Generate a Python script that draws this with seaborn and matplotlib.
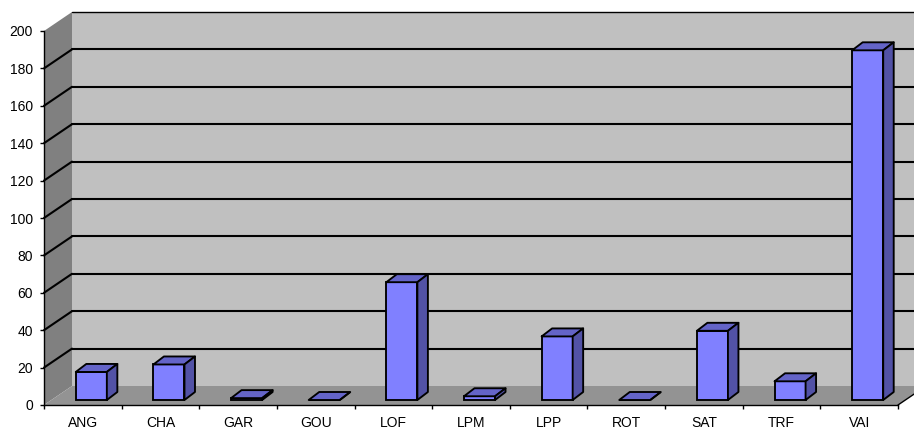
import matplotlib
matplotlib.use("Agg")
import matplotlib.pyplot as plt
import numpy as np
import seaborn as sns
from matplotlib.patches import Polygon, Rectangle
from matplotlib.transforms import IdentityTransform, ScaledTranslation

sns.set_style("white")
plt.rcParams["font.family"] = ["Liberation Sans", "DejaVu Sans"]
plt.rcParams["text.color"] = "black"
plt.rcParams["xtick.color"] = "black"
plt.rcParams["ytick.color"] = "black"

# ── data ────────────────────────────────────────────────────────────────────
sites = ["ANG", "CHA", "GAR", "GOU", "LOF", "LPM", "LPP", "ROT", "SAT", "TRF", "VAI"]
counts = [15, 19, 1, 0, 63, 2, 34, 0, 37, 10, 187]
y_ticks = list(range(0, 201, 20))

# ── styling ─────────────────────────────────────────────────────────────────
DPI = 100
W, H = 914, 432
WALL_DX, WALL_DY = 28, 19      # depth of the box (px)
BAR_DX, BAR_DY = 8.5, 5        # bar front plane offset (px)
DEPTH_DX, DEPTH_DY = 10.5, 8   # bar depth (px)
BAR_FRONT = "#8080FF"
BAR_TOP = "#6464C8"
BAR_SIDE = "#5252A6"
BACK_WALL = "#C0C0C0"
SIDE_WALL = "#808080"
FLOOR = "#939393"
EDGE_LW = 1.35

fig = plt.figure(figsize=(W / DPI, H / DPI), dpi=DPI)
ax = fig.add_axes([44 / W, 27 / H, 854 / W, 374 / H])
ax.set_xlim(-0.5, len(sites) - 0.5)
ax.set_ylim(0, 200)
ax.patch.set_visible(False)


def px(x, y, dx=0.0, dy=0.0):
    """data point -> display pixels, pushed back by (dx, dy) px."""
    p = ax.transData.transform((x, y))
    return (p[0] + dx, p[1] + dy)


def poly(points, **kw):
    ax.add_patch(Polygon(points, closed=True, transform=IdentityTransform(),
                         clip_on=False, **kw))


x0, x1 = -0.5, len(sites) - 0.5

# back wall, side wall, floor
ax.add_patch(Rectangle((x0, 0), x1 - x0, 200, fc=BACK_WALL, ec="none", zorder=0,
                       transform=ax.transData + ScaledTranslation(WALL_DX / DPI, WALL_DY / DPI, fig.dpi_scale_trans),
                       clip_on=False))
poly([px(x0, 0), px(x0, 200), px(x0, 200, WALL_DX, WALL_DY), px(x0, 0, WALL_DX, WALL_DY)],
     fc=SIDE_WALL, ec="none", zorder=1)
poly([px(x0, 0), px(x1, 0), px(x1, 0, WALL_DX, WALL_DY), px(x0, 0, WALL_DX, WALL_DY)],
     fc=FLOOR, ec="none", zorder=1)

# gridlines on the walls
for v in y_ticks[1:]:
    a, b = px(x0, v, WALL_DX, WALL_DY), px(x1, v, WALL_DX, WALL_DY)
    ax.add_line(plt.Line2D([a[0], b[0] + 40], [a[1], b[1]], color="black",
                           lw=1.5 if v < 200 else 1.0, transform=IdentityTransform(),
                           clip_on=False, zorder=2))
    if v < 200:
        f = px(x0, v)
        ax.add_line(plt.Line2D([f[0], a[0]], [f[1], a[1]], color="black", lw=1.5,
                               transform=IdentityTransform(), clip_on=False, zorder=2))
# right edge of the floor
f, b = px(x1, 0), px(x1, 0, WALL_DX, WALL_DY)
ax.add_line(plt.Line2D([f[0], b[0]], [f[1], b[1]], color="black", lw=1.0,
                       transform=IdentityTransform(), clip_on=False, zorder=2))

# bars (front faces) via seaborn, then shifted into the box
sns.barplot(x=sites, y=counts, color=BAR_FRONT, saturation=1, width=0.4,
            edgecolor="black", linewidth=EDGE_LW, ax=ax, zorder=3)
shift = ScaledTranslation(BAR_DX / DPI, BAR_DY / DPI, fig.dpi_scale_trans)
for p in ax.patches:
    if not hasattr(p, "get_width") or p.get_facecolor()[:3] != matplotlib.colors.to_rgb(BAR_FRONT):
        continue
    p.set_transform(ax.transData + shift)
    p.set_clip_on(False)
    bx, bw, bh = p.get_x(), p.get_width(), p.get_height()
    fl = px(bx, bh, BAR_DX, BAR_DY)
    fr = px(bx + bw, bh, BAR_DX, BAR_DY)
    frb = px(bx + bw, 0, BAR_DX, BAR_DY)
    d = (DEPTH_DX, DEPTH_DY)
    poly([fl, fr, (fr[0] + d[0], fr[1] + d[1]), (fl[0] + d[0], fl[1] + d[1])],
         fc=BAR_TOP, ec="black", lw=EDGE_LW, zorder=4, joinstyle="round")
    poly([frb, fr, (fr[0] + d[0], fr[1] + d[1]), (frb[0] + d[0], frb[1] + d[1])],
         fc=BAR_SIDE, ec="black", lw=EDGE_LW, zorder=4, joinstyle="round")

# axes
for s in ["top", "right"]:
    ax.spines[s].set_visible(False)
for s in ["left", "bottom"]:
    ax.spines[s].set_color("black")
    ax.spines[s].set_linewidth(1.0)
    ax.spines[s].set_zorder(5)
ax.set_yticks(y_ticks)
ax.tick_params(axis="y", direction="out", length=3, width=1, color="black",
               labelcolor="black", pad=5, labelsize=10, left=True)
ax.set_xticks(range(len(sites)))
ax.set_xticklabels(sites)
ax.set_xticks(np.arange(-0.5, len(sites)), minor=True)
ax.tick_params(axis="x", which="major", length=0, pad=8, labelsize=10,
               labelcolor="black")
ax.tick_params(axis="x", which="minor", direction="out", length=3, width=1,
               color="black", bottom=True)
ax.set_xlabel("")
ax.set_ylabel("")

fig.savefig("out.png", dpi=DPI, facecolor="white")
